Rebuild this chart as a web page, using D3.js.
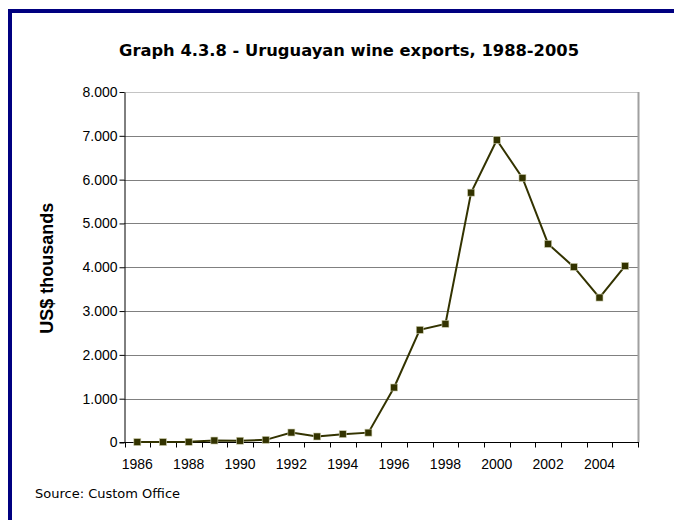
<!DOCTYPE html>
<html><head><meta charset="utf-8">
<script src="https://cdn.jsdelivr.net/npm/d3@7"></script>
<style>body{margin:0;background:#fff;}svg{display:block;}</style>
</head><body>
<svg id="c" width="674" height="520"></svg>
<script>
const years = [1986,1987,1988,1989,1990,1991,1992,1993,1994,1995,1996,1997,1998,1999,2000,2001,2002,2003,2004,2005];
const exportsUSD = [10,10,15,45,40,60,228,137,191,225,1255,2571,2708,5703,6905,6038,4532,4008,3308,4030];
const yTicks = [0,1000,2000,3000,4000,5000,6000,7000,8000];
const xLabelYears = [1986,1988,1990,1992,1994,1996,1998,2000,2002,2004];
const titleText = "Graph 4.3.8 - Uruguayan wine exports, 1988-2005";
const yTitle = "US$ thousands";
const sourceText = "Source: Custom Office";

const svg = d3.select("#c");
// frame
svg.append("rect").attr("x",8).attr("y",9).attr("width",666).attr("height",4).attr("fill","#000080");
svg.append("rect").attr("x",8).attr("y",9).attr("width",4).attr("height",511).attr("fill","#000080");

const L=124.5, R=638, T=92, B=442.5;
const x = d3.scaleBand().domain(years).range([L,R]);
const y = d3.scaleLinear().domain([0,8000]).range([B,T]);

svg.append("text").attr("x",349).attr("y",56).attr("text-anchor","middle")
  .attr("textLength",460).attr("lengthAdjust","spacingAndGlyphs")
  .style("font-family","Tahoma, 'DejaVu Sans', sans-serif").style("font-weight","bold").style("font-size","15px")
  .attr("fill","#000").text(titleText);

// gridlines
svg.append("g").selectAll("line").data(yTicks.filter(d=>d>0)).join("line")
  .attr("x1",L).attr("x2",R).attr("y1",d=>Math.round(y(d))+0.5).attr("y2",d=>Math.round(y(d))+0.5)
  .attr("stroke",d=>d===8000?"#888":"#000").attr("stroke-width",1).attr("stroke-dasharray","1,1");
// right border
svg.append("line").attr("x1",R+0.5).attr("x2",R+0.5).attr("y1",T).attr("y2",B).attr("stroke","#a0a0a0").attr("stroke-width",2);

// y axis
const yAxis = d3.axisLeft(y).tickValues(yTicks).tickSize(5).tickSizeOuter(0)
  .tickFormat(d=>d===0?"0":d3.format(",")(d).replace(/,/g,"."));
const gy = svg.append("g").attr("transform",`translate(${L},0)`).call(yAxis);
gy.select(".domain").attr("stroke","#000");
gy.selectAll(".tick line").attr("stroke","#000");
gy.selectAll("text").style("font-family","'Liberation Sans', Arial, sans-serif").style("font-size","14px").attr("fill","#000").attr("x",-7);

// x axis
const gx = svg.append("g").attr("transform",`translate(0,${B})`);
gx.append("line").attr("x1",L-5).attr("x2",R+1).attr("y1",0).attr("y2",0).attr("stroke","#000");
const edges = years.map(d=>x(d)).concat([R]);
gx.selectAll("line.t").data(edges).join("line").attr("class","t")
  .attr("x1",d=>Math.round(d)+0.5).attr("x2",d=>Math.round(d)+0.5).attr("y1",0).attr("y2",5).attr("stroke","#000");
gx.selectAll("text").data(xLabelYears).join("text")
  .attr("x",d=>x(d)+x.bandwidth()/2).attr("y",26).attr("text-anchor","middle")
  .style("font-family","'Liberation Sans', Arial, sans-serif").style("font-size","14px").attr("fill","#000").text(d=>d);

svg.append("text").attr("transform",`translate(53,${(T+B)/2+1}) rotate(-90)`).attr("text-anchor","middle")
  .style("font-family","'Liberation Sans', Arial, sans-serif").style("font-weight","bold").style("font-size","18px")
  .attr("fill","#000").text(yTitle);

// line
const pts = years.map((d,i)=>[x(d)+x.bandwidth()/2, y(exportsUSD[i])]);
svg.append("path").attr("d",d3.line()(pts)).attr("fill","none").attr("stroke","#333300").attr("stroke-width",2);
svg.append("g").selectAll("rect").data(pts).join("rect")
  .attr("x",d=>d[0]-3.5).attr("y",d=>d[1]-3.5).attr("width",7).attr("height",7)
  .attr("fill","#333300").attr("stroke","#cfcfb0").attr("stroke-width",0.6);

svg.append("text").attr("x",35).attr("y",498)
  .style("font-family","Tahoma, 'DejaVu Sans', sans-serif").style("font-size","13px").attr("fill","#000").text(sourceText);
</script>
</body></html>
